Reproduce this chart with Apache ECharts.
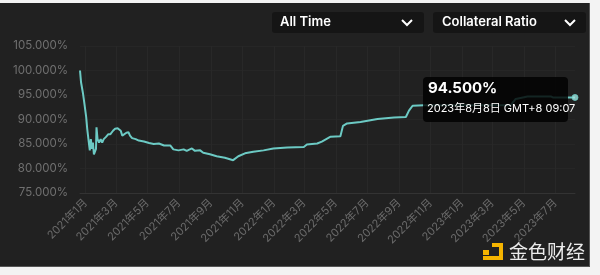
<!DOCTYPE html>
<html>
<head>
<meta charset="utf-8">
<script src="https://cdn.jsdelivr.net/npm/echarts@6/dist/echarts.min.js"></script>
<style>
  html, body { margin: 0; padding: 0; width: 600px; height: 275px; background: #f3f3f3; overflow: hidden; }
  #panel { position: absolute; left: 0; top: 3px; width: 589px; height: 263px; background: #212121; border-right: 1px solid #555; border-bottom: 1px solid #555; }
  #chart { position: absolute; left: 0; top: 0; width: 600px; height: 275px; }
</style>
</head>
<body>
<div id="panel"></div>
<div id="chart"></div>
<script>
// ---- data ----
const dates = [
  '2020-12-21','2020-12-23','2020-12-27','2020-12-30','2021-01-02','2021-01-04','2021-01-07','2021-01-09',
  '2021-01-11','2021-01-13','2021-01-15','2021-01-17','2021-01-21','2021-01-22','2021-01-24','2021-01-27',
  '2021-01-30','2021-02-02','2021-02-05','2021-02-09','2021-02-14','2021-02-18','2021-02-23','2021-02-27',
  '2021-03-04','2021-03-10','2021-03-13','2021-03-16','2021-03-21','2021-03-25','2021-03-28','2021-04-01',
  '2021-04-08','2021-04-14','2021-04-24','2021-05-04','2021-05-13','2021-05-23','2021-06-02','2021-06-14',
  '2021-06-20','2021-06-30','2021-07-10','2021-07-16','2021-07-26','2021-08-01','2021-08-11','2021-08-17',
  '2021-08-30','2021-09-12','2021-09-28','2021-10-14','2021-10-24','2021-11-06','2021-11-22','2021-12-12',
  '2021-12-31','2022-01-27','2022-02-28','2022-03-06','2022-03-26','2022-04-04','2022-04-21','2022-05-10',
  '2022-05-15','2022-05-23','2022-06-18','2022-07-21','2022-08-22','2022-09-14','2022-09-20','2022-09-27',
  '2022-10-19','2023-04-05','2023-04-15','2023-05-08','2023-06-22','2023-06-26','2023-08-08'
];
const collateralRatio = [
  100.0, 97.6, 95.2, 92.9, 90.5, 88.1, 85.4, 83.7,
  86.0, 84.0, 85.3, 82.9, 84.0, 88.4, 86.0, 85.3,
  86.0, 85.3, 86.0, 86.4, 87.0, 87.0, 87.7, 88.1,
  88.2, 87.7, 86.7, 86.4, 87.3, 87.4, 86.7, 86.2,
  86.0, 85.7, 85.5, 85.2, 85.0, 85.1, 84.7, 84.7,
  83.9, 83.7, 83.9, 83.6, 84.1, 83.6, 83.7, 83.2,
  82.9, 82.5, 82.2, 81.7, 82.5, 83.1, 83.4, 83.7,
  84.1, 84.3, 84.4, 84.9, 85.1, 85.5, 86.5, 86.6,
  88.7, 89.2, 89.5, 90.1, 90.4, 90.5, 91.8, 92.8,
  92.9, 92.9, 94.2, 94.7, 94.7, 94.5, 94.5
];
const xTickLabels = [
  '2021-01-01','2021-03-01','2021-05-01','2021-07-01','2021-09-01','2021-11-01',
  '2022-01-01','2022-03-01','2022-05-01','2022-07-01','2022-09-01','2022-11-01',
  '2023-01-01','2023-03-01','2023-05-01','2023-07-01'
];
const yTicks = [75, 80, 85, 90, 95, 100, 105];
const rangeOptions = ['All Time'];
const metricOptions = ['Collateral Ratio'];
const tooltipTime = '2023年8月8日 GMT+8 09:07';
const watermark = '金色财经';

// ---- build ----
function toLocalTs(s) { const p = s.split('-').map(Number); return new Date(p[0], p[1] - 1, p[2]).getTime(); }
const seriesData = dates.map((d, i) => [toLocalTs(d), collateralRatio[i]]);
const lastIdx = dates.length - 1;
const lastPoint = [toLocalTs(dates[lastIdx]), collateralRatio[lastIdx]];
const tickTs = xTickLabels.map(toLocalTs);

const chart = echarts.init(document.getElementById('chart'), null, { renderer: 'canvas' });
const lineColor = '#6ccac4';
const option = {
  backgroundColor: 'transparent',
  animation: false,
  grid: { left: 80, right: 25, top: 46, bottom: 82 },
  xAxis: {
    type: 'value',
    min: seriesData[0][0],
    max: lastPoint[0],
    axisLine: { show: true, lineStyle: { color: '#333333', width: 1 } },
    axisTick: { show: false, customValues: tickTs },
    splitLine: { show: false },
    axisLabel: {
      customValues: tickTs,
      rotate: 45,
      color: '#6b6b6b',
      fontSize: 11,
      fontFamily: 'Inter, "Noto Sans CJK SC", sans-serif',
      margin: 8,
      showMinLabel: true,
      showMaxLabel: true,
      formatter: function (v) { const d = new Date(v); return d.getFullYear() + '年' + (d.getMonth() + 1) + '月'; }
    }
  },
  yAxis: {
    type: 'value',
    min: yTicks[0],
    max: yTicks[yTicks.length - 1],
    interval: 5,
    axisLine: { show: false },
    axisTick: { show: false },
    splitLine: { show: true, lineStyle: { color: '#262626', width: 1 } },
    axisLabel: {
      color: '#707070',
      fontSize: 11.5,
      fontFamily: 'Inter, sans-serif',
      margin: 12,
      formatter: function (v) { return v.toFixed(3) + '%'; }
    }
  },
  series: [
    {
      type: 'line',
      data: seriesData,
      showSymbol: false,
      symbol: 'none',
      lineStyle: { color: lineColor, width: 2 },
      z: 3,
      markLine: {
        silent: true,
        symbol: 'none',
        label: { show: false },
        lineStyle: { color: '#282828', width: 1, type: 'solid' },
        z: 1,
        data: tickTs.map(t => ({ xAxis: t }))
      }
    },
    {
      type: 'scatter',
      data: [lastPoint],
      symbol: 'circle',
      symbolSize: 6,
      itemStyle: { color: '#9fe3de', borderColor: lineColor, borderWidth: 1 },
      z: 4
    }
  ],
  graphic: [
    { type: 'rect', z: 100, shape: { x: 272, y: 12, width: 152, height: 21, r: 3 }, style: { fill: '#151515' } },
    { type: 'text', z: 101, style: { x: 280, y: 22.5, text: rangeOptions[0], fill: '#ffffff', font: '600 13px Inter, sans-serif', verticalAlign: 'middle' } },
    { type: 'polyline', z: 101, shape: { points: [[402, 20], [407, 25], [412, 20]] }, style: { stroke: '#ffffff', lineWidth: 2, fill: null } },
    { type: 'rect', z: 100, shape: { x: 433, y: 12, width: 153, height: 21, r: 3 }, style: { fill: '#151515' } },
    { type: 'text', z: 101, style: { x: 442, y: 22.5, text: metricOptions[0], fill: '#ffffff', font: '600 13px Inter, sans-serif', verticalAlign: 'middle' } },
    { type: 'polyline', z: 101, shape: { points: [[565, 20], [570, 25], [575, 20]] }, style: { stroke: '#ffffff', lineWidth: 2, fill: null } },
    { type: 'rect', z: 100, shape: { x: 423, y: 77, width: 145, height: 45, r: 4 }, style: { fill: 'rgba(0,0,0,0.82)' } },
    { type: 'text', z: 101, style: { x: 428, y: 88, text: collateralRatio[lastIdx].toFixed(3) + '%', fill: '#ffffff', font: 'bold 15px Inter, sans-serif', verticalAlign: 'middle' } },
    { type: 'text', z: 101, style: { x: 427, y: 109, text: tooltipTime, fill: '#ffffff', font: '11px Inter, "Noto Sans CJK SC", sans-serif', verticalAlign: 'middle' } },
    { type: 'rect', z: 100, shape: { x: 483, y: 250, width: 6, height: 5 }, style: { fill: '#f5b400' } },
    { type: 'rect', z: 100, shape: { x: 492, y: 243, width: 11, height: 4 }, style: { fill: '#f5b400' } },
    { type: 'rect', z: 100, shape: { x: 499, y: 243, width: 4, height: 17 }, style: { fill: '#f5b400' } },
    { type: 'rect', z: 100, shape: { x: 483, y: 256, width: 20, height: 4 }, style: { fill: '#f5b400' } },
    { type: 'text', z: 101, style: { x: 509, y: 252, text: watermark, fill: '#ececec', font: '19px "Noto Sans CJK SC", sans-serif', verticalAlign: 'middle' } }
  ]
};
chart.setOption(option);
</script>
</body>
</html>
